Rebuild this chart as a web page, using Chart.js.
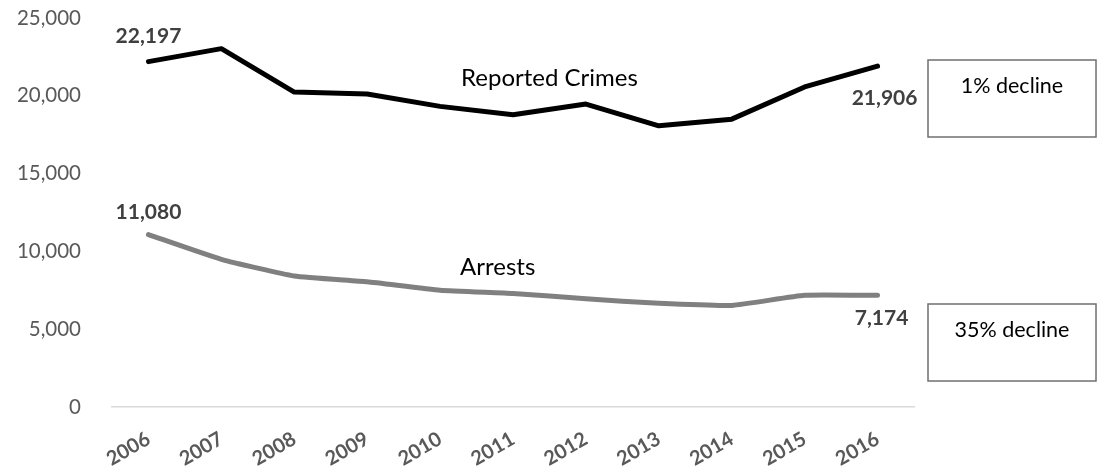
<!DOCTYPE html>
<html>
<head>
<meta charset="utf-8">
<script src="https://cdn.jsdelivr.net/npm/chart.js@4"></script>
<style>
  html, body { margin: 0; padding: 0; background: #fff; }
  canvas { display: block; }
</style>
</head>
<body>
<canvas id="c" width="1106" height="472"></canvas>
<script>
// Yearly totals, 2006-2016
const years = ['2006', '2007', '2008', '2009', '2010', '2011', '2012', '2013', '2014', '2015', '2016'];
const reportedCrimes = [22197, 23030, 20240, 20120, 19320, 18780, 19470, 18070, 18500, 20570, 21906];
const arrests = [11080, 9490, 8420, 8050, 7510, 7300, 6950, 6660, 6530, 7180, 7174];
const yTicks = [0, 5000, 10000, 15000, 20000, 25000];
const seriesNames = ['Reported Crimes', 'Arrests'];
const changeNotes = ['1% decline', '35% decline'];

const FONT = 'Lato, "Open Sans", sans-serif';
const fmt = v => v.toLocaleString('en-US');

// Value labels at both ends, series names and change boxes
const notesPlugin = {
  id: 'notes',
  afterDatasetsDraw(chart) {
    const { ctx, chartArea, scales: { y } } = chart;
    const crimePts = chart.getDatasetMeta(0).data;
    const arrestPts = chart.getDatasetMeta(1).data;
    const last = years.length - 1;
    ctx.save();
    ctx.textAlign = 'center';
    ctx.textBaseline = 'middle';

    ctx.font = 'bold 21px ' + FONT;
    ctx.fillStyle = '#404040';
    ctx.fillText(fmt(reportedCrimes[0]), crimePts[0].x, crimePts[0].y - 25);
    ctx.fillText(fmt(arrests[0]), arrestPts[0].x, arrestPts[0].y - 22);
    ctx.fillText(fmt(reportedCrimes[last]), crimePts[last].x + 7, crimePts[last].y + 32);
    ctx.fillText(fmt(arrests[last]), arrestPts[last].x + 4, arrestPts[last].y + 23);

    ctx.font = '24px ' + FONT;
    ctx.fillStyle = '#000';
    const between = (pts, i, f) => pts[i].x + (pts[i + 1].x - pts[i].x) * f;
    ctx.fillText(seriesNames[0], between(crimePts, 5, 0.5), y.getPixelForValue(21100));
    ctx.fillText(seriesNames[1], between(arrestPts, 4, 0.79), y.getPixelForValue(9000));

    const boxLeft = chartArea.right + 14, boxW = 168, boxH = 77;
    const boxTops = [chartArea.top + 42, chartArea.top + 286];
    ctx.strokeStyle = '#6f6f6f';
    ctx.lineWidth = 1.5;
    ctx.font = '21.5px ' + FONT;
    boxTops.forEach((top, i) => {
      ctx.strokeRect(boxLeft, top, boxW, boxH);
      ctx.fillText(changeNotes[i], boxLeft + boxW / 2, top + 26);
    });
    ctx.restore();
  }
};

new Chart(document.getElementById('c'), {
  type: 'line',
  data: {
    labels: years,
    datasets: [
      {
        label: seriesNames[0],
        data: reportedCrimes,
        borderColor: '#000000',
        borderWidth: 5,
        borderCapStyle: 'round',
        borderJoinStyle: 'round',
        pointRadius: 0,
        tension: 0
      },
      {
        label: seriesNames[1],
        data: arrests,
        borderColor: '#808080',
        borderWidth: 5,
        borderCapStyle: 'round',
        borderJoinStyle: 'round',
        pointRadius: 0,
        tension: 0.15
      }
    ]
  },
  options: {
    responsive: false,
    animation: false,
    layout: { padding: { top: 18, right: 192, bottom: 0, left: 0 } },
    plugins: { legend: { display: false }, tooltip: { enabled: false } },
    scales: {
      x: {
        offset: true,
        grid: { display: false },
        border: { display: true, color: '#d9d9d9', width: 1.5 },
        ticks: {
          minRotation: 30,
          maxRotation: 30,
          padding: 12,
          color: '#595959',
          font: { family: FONT, size: 20, weight: 'bold' }
        },
        afterFit(s) { s.height = 65; }
      },
      y: {
        min: 0,
        max: 25000,
        grid: { display: false },
        border: { display: false },
        afterBuildTicks(s) { s.ticks = yTicks.map(v => ({ value: v })); },
        ticks: {
          padding: 23,
          color: '#595959',
          font: { family: FONT, size: 20.5 },
          callback: v => fmt(v)
        },
        afterFit(s) {
          s.width = 112;
          s.paddingTop = 0;
          s.paddingBottom = 0;
        }
      }
    }
  },
  plugins: [notesPlugin]
});
</script>
</body>
</html>
